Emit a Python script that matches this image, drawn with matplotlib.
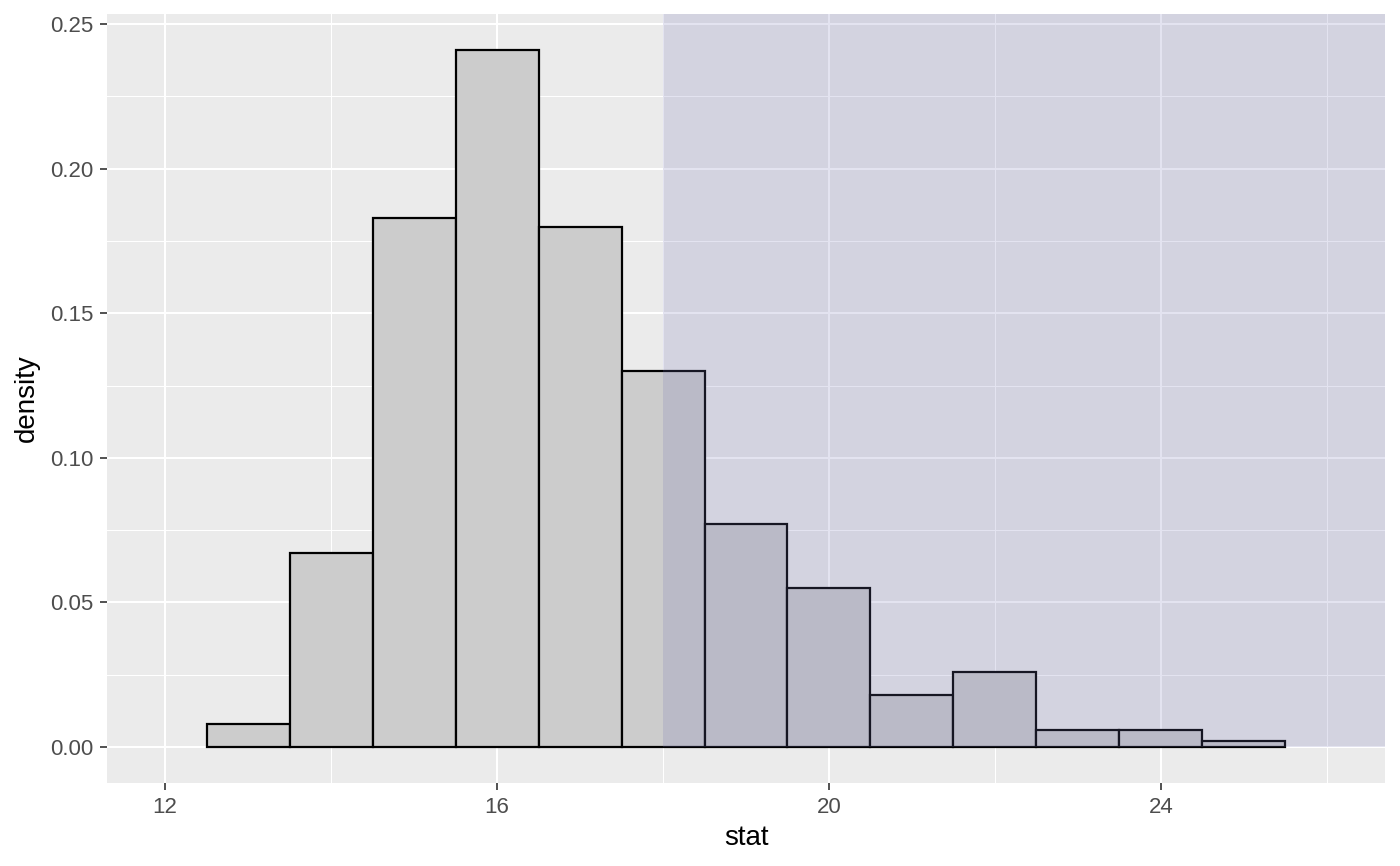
import numpy as np
import matplotlib.pyplot as plt
from matplotlib.ticker import MultipleLocator

plt.rcParams['font.family'] = ['Liberation Sans', 'DejaVu Sans']

# histogram bins (centres, width 1) and density values
bin_centers = [13, 14, 15, 16, 17, 18, 19, 20, 21, 22, 23, 24, 25]
density = [0.008, 0.067, 0.183, 0.241, 0.180, 0.130, 0.077,
           0.055, 0.018, 0.026, 0.006, 0.006, 0.002]
obs_stat = 18.0
x_ticks = [12, 16, 20, 24]
y_ticks = [0.00, 0.05, 0.10, 0.15, 0.20, 0.25]

fig = plt.figure(figsize=(14, 8.66), dpi=100)
ax = fig.add_axes([107 / 1400, 1 - 783 / 866, (1385 - 107) / 1400, (783 - 14) / 866])
ax.set_facecolor('#EBEBEB')

# bars
ax.bar(bin_centers, density, width=1.0, color='#CCCCCC',
       edgecolor='black', linewidth=1.6, zorder=3)

ax.set_xlim(11.30, 26.70)
ax.set_ylim(-0.01245, 0.2535)

# shaded p-value region: from observed stat to the right, above y=0
ax.axvspan(obs_stat, 26.70, ymin=(0 + 0.01245) / (0.2535 + 0.01245), ymax=1,
           color='#7373B4', alpha=0.2, linewidth=0, zorder=4)

# grid in ggplot style
ax.set_xticks(x_ticks)
ax.set_yticks(y_ticks)
ax.set_yticklabels([f'{v:.2f}' for v in y_ticks])
ax.xaxis.set_minor_locator(MultipleLocator(2))
ax.yaxis.set_minor_locator(MultipleLocator(0.025))
ax.grid(which='major', color='white', linewidth=1.5, zorder=0)
ax.grid(which='minor', color='white', linewidth=0.75, zorder=0)
ax.set_axisbelow(True)

for s in ax.spines.values():
    s.set_visible(False)

ax.tick_params(which='major', length=5, width=1.2, color='#333333',
               labelcolor='#4D4D4D', labelsize=16, pad=5)
ax.tick_params(which='minor', length=0)

ax.set_xlabel('stat', fontsize=20, color='black', labelpad=5)
ax.set_ylabel('density', fontsize=20, color='black', labelpad=7)

fig.savefig('out.png', dpi=100)
